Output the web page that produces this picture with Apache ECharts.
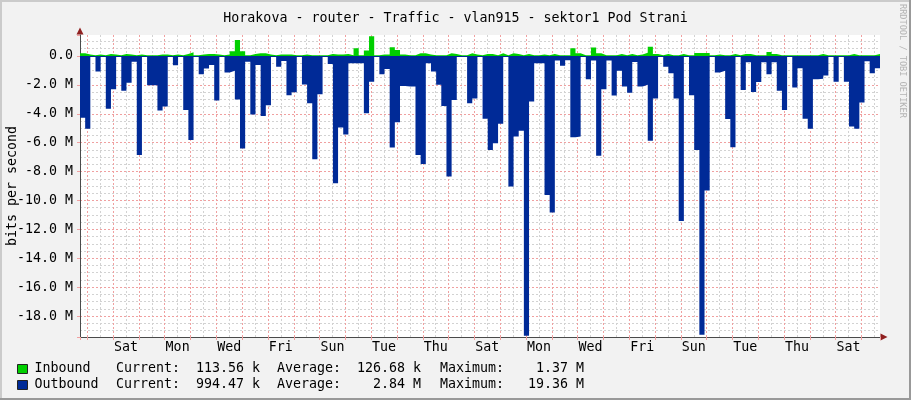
<!DOCTYPE html>
<html><head><meta charset="utf-8">
<script src="https://cdn.jsdelivr.net/npm/echarts@6/dist/echarts.min.js"></script>
<style>html,body{margin:0;padding:0;background:#F2F2F2}#c{width:911px;height:400px}</style>
</head><body><div id="c"></div>
<script>
// ---------------- data ----------------
const chartTitle = 'Horakova - router - Traffic - vlan915 - sektor1 Pod Strani';
const yAxisTitle = 'bits per second';
const seriesNames = ['Inbound', 'Outbound'];
const watermark = 'RRDTOOL / TOBI OETIKER';
// time in days since the first midnight shown (Fri 00:00)
const startDay = -0.283;
const slotDays = 0.2;              // 4.8 h consolidated samples
const dayLabels = ['Sat','Mon','Wed','Fri','Sun','Tue','Thu','Sat','Mon','Wed','Fri','Sun','Tue','Thu','Sat'];
const firstLabelDay = 1.5;         // Sat noon
const labelStepDays = 2;
// values in Mbit/s
const inboundM = [
 0.18,0.1,0.05,0.1,0.05,0.14,0.1,0.05,0.14,0.1,
 0.05,0.1,0.05,0.05,0.05,0.1,0.1,0.05,0.1,0.05,
 0.14,0.25,0.05,0.1,0.14,0.14,0.1,0.05,0.1,0.32,
 1.1,0.32,0.05,0.14,0.18,0.18,0.1,0.05,0.1,0.1,
 0.1,0.05,0.05,0.1,0.05,0.05,0.05,0.05,0.14,0.1,
 0.1,0.14,0.05,0.53,0.05,0.37,1.37,0.05,0.1,0.1,
 0.6,0.41,0.1,0.05,0.05,0.18,0.18,0.1,0.05,0.05,
 0.05,0.18,0.14,0.05,0.05,0.18,0.1,0.05,0.14,0.14,
 0.05,0.18,0.05,0.18,0.14,0.05,0.14,0.05,0.05,0.1,
 0.05,0.14,0.05,0.05,0.05,0.53,0.18,0.05,0.05,0.58,
 0.18,0.05,0.05,0.05,0.14,0.05,0.14,0.05,0.1,0.23,
 0.64,0.14,0.05,0.14,0.05,0.05,0.14,0.05,0.05,0.2,
 0.2,0.2,0.05,0.1,0.05,0.05,0.14,0.05,0.14,0.14,
 0.05,0.05,0.05,0.28,0.14,0.05,0.05,0.05,0.05,0.05,
 0.05,0.05,0.05,0.14,0.05,0.05,0.05,0.05,0.05,0.14,
 0.05,0.05,0.05,0.05,0.14
];
const outboundM = [
 -4.27,-5.03,-0.08,-1.08,-0.08,-3.65,-2.3,-0.08,-2.4,-1.85,
 -0.4,-6.85,-0.08,-2.03,-2.03,-3.78,-3.5,-0.08,-0.65,-0.08,
 -3.74,-5.81,-0.08,-1.27,-0.87,-0.62,-3.09,-0.08,-1.15,-1.02,
 -3.02,-6.41,-0.4,-4.06,-0.62,-4.15,-3.41,-0.08,-0.74,-0.35,
 -2.72,-2.51,-0.08,-1.98,-3.28,-7.15,-2.65,-0.08,-0.55,-8.81,
 -4.96,-5.44,-0.5,-0.5,-0.5,-3.97,-1.78,-0.08,-1.27,-0.9,
 -6.34,-4.59,-2.08,-2.12,-2.12,-6.85,-7.47,-0.5,-1.08,-2.0,
 -3.46,-8.35,-3.05,-0.08,-0.08,-3.28,-2.95,-0.08,-4.34,-6.5,
 -6.04,-4.7,-0.08,-9.04,-5.58,-5.17,-19.36,-3.16,-0.5,-0.5,
 -9.62,-10.84,-0.32,-0.67,-0.3,-5.63,-5.58,-0.08,-1.61,-0.32,
 -6.9,-2.3,-0.32,-2.74,-1.02,-2.12,-2.54,-0.42,-2.12,-2.0,
 -5.86,-2.95,-0.08,-0.74,-1.2,-2.95,-11.42,-0.08,-2.72,-6.5,
 -19.3,-9.32,-0.08,-1.15,-1.02,-4.36,-6.32,-0.08,-2.35,-0.44,
 -2.49,-1.8,-0.44,-1.27,-0.44,-2.4,-3.74,-0.08,-2.19,-0.85,
 -4.34,-5.03,-1.61,-1.57,-1.36,-0.08,-1.78,-0.08,-1.78,-4.89,
 -5.03,-3.23,-0.37,-1.2,-0.85
];
const statLabels = ['Current:', 'Average:', 'Maximum:'];
const inboundStats = ['113.56 k', '126.68 k', '1.37 M'];
const outboundStats = ['994.47 k', '2.84 M', '19.36 M'];
const yMin = -19.45, yMax = 1.45;

// ---------------- chart ----------------
const FONT = 'DejaVu Sans Mono';
const FS = 13.3;
const C_IN = '#00CF00', C_OUT = '#002A97';
const C_GRID = '#d2d2d2', C_MGRID = '#f0a0a0', C_AXIS = '#4a4a4a', C_ARROW = '#902020';
const xMin = startDay, xMax = startDay + outboundM.length * slotDays;

function stepData(vals) {
  const d = vals.map((v, i) => [startDay + i * slotDays, v]);
  d.push([startDay + vals.length * slotDays, vals[vals.length - 1]]);
  return d;
}
function near(a, b) { return Math.abs(a - b) < 1e-6; }
function xLabel(v) {
  const k = (v - firstLabelDay) / labelStepDays;
  const r = Math.round(k);
  if (near(k, r) && r >= 0 && r < dayLabels.length) return dayLabels[r];
  return '';
}
function yLabel(v) {
  const k = v / 2;
  if (!near(k, Math.round(k))) return '';
  if (Math.abs(v) < 1e-9) return '0.0';
  return v.toFixed(1) + ' M';
}
function fmtStat(label, s) {
  const parts = s.split(' ');
  return label + parts[0].padStart(8, ' ') + ' ' + parts[1];
}

const gridLine = (color) => ({show: true, showMinLine: false, showMaxLine: false,
  lineStyle: {color: color, width: 1, type: [2, 2]}});

const chart = echarts.init(document.getElementById('c'), null, {renderer: 'canvas'});
const statX = [116, 277, 440];
const rowY = [369, 385];
const graphics = [
  {type: 'rect', silent: true, shape: {x: 0, y: 0, width: 911, height: 2}, style: {fill: '#CBCBCB'}},
  {type: 'rect', silent: true, shape: {x: 0, y: 0, width: 2, height: 400}, style: {fill: '#CBCBCB'}},
  {type: 'rect', silent: true, shape: {x: 909, y: 0, width: 2, height: 400}, style: {fill: '#999999'}},
  {type: 'rect', silent: true, shape: {x: 0, y: 398, width: 911, height: 2}, style: {fill: '#999999'}},
  {type: 'text', silent: true, x: 907, y: 4, rotation: -Math.PI / 2,
    style: {text: watermark, font: '8.6px "DejaVu Sans Mono"', fill: '#b4b4b4', textAlign: 'left', textVerticalAlign: 'top'}}
];
[inboundStats, outboundStats].forEach((stats, r) => {
  stats.forEach((s, c) => {
    graphics.push({type: 'text', silent: true, x: statX[c], y: rowY[r],
      style: {text: fmtStat(statLabels[c], s), font: FS + 'px "DejaVu Sans Mono"', fill: '#000', textVerticalAlign: 'middle'}});
  });
});

chart.setOption({
  animation: false,
  backgroundColor: '#F2F2F2',
  title: {text: chartTitle, left: 'center', top: 7,
    textStyle: {fontFamily: FONT, fontSize: FS, fontWeight: 'normal', color: '#000'}},
  legend: {left: 17, top: 361, orient: 'vertical', icon: 'rect', itemWidth: 10, itemHeight: 9, itemGap: 0, padding: 0,
    selectedMode: false, data: seriesNames,
    itemStyle: {borderColor: '#222', borderWidth: 1},
    textStyle: {fontFamily: FONT, fontSize: FS, color: '#000', lineHeight: 16, padding: [0, 0, 0, 2]}},
  grid: {left: 80, right: 31, top: 35, bottom: 63, show: true, backgroundColor: '#ffffff', borderWidth: 0,
    containLabel: false, outerBoundsMode: 'none'},
  xAxis: [
    {type: 'value', min: xMin, max: xMax, minInterval: 0.5, maxInterval: 0.5, splitNumber: 62, position: 'bottom', z: 0,
      axisLine: {show: false}, axisTick: {show: false}, splitLine: gridLine(C_GRID),
      axisLabel: {show: true, margin: 4, color: '#000', fontFamily: FONT, fontSize: FS, hideOverlap: false, formatter: xLabel}},
    {type: 'value', min: xMin, max: xMax, minInterval: 1, maxInterval: 1, splitNumber: 31, position: 'bottom', z: 1,
      axisLine: {show: true, onZero: false, lineStyle: {color: C_AXIS, width: 1}},
      axisTick: {show: true, length: 3, lineStyle: {color: C_MGRID}},
      splitLine: gridLine(C_MGRID), axisLabel: {show: false}},
    {type: 'value', min: xMin, max: xMax, position: 'bottom', z: 0,
      axisLine: {show: true, onZero: false, symbol: ['none', 'triangle'], symbolSize: [7, 7], symbolOffset: [0, 4],
        lineStyle: {color: C_ARROW, width: 0}},
      axisTick: {show: false}, axisLabel: {show: false}, splitLine: {show: false}}
  ],
  yAxis: [
    {type: 'value', min: yMin, max: yMax, minInterval: 0.5, maxInterval: 0.5, splitNumber: 42, position: 'left', z: 0,
      axisLine: {show: false}, axisTick: {show: false}, axisLabel: {show: false}, splitLine: gridLine(C_GRID)},
    {type: 'value', min: yMin, max: yMax, minInterval: 2, maxInterval: 2, splitNumber: 10, position: 'left', z: 1,
      axisLine: {show: true, onZero: false, lineStyle: {color: C_AXIS, width: 1}},
      axisTick: {show: true, length: 3, lineStyle: {color: C_MGRID}},
      splitLine: gridLine(C_MGRID),
      axisLabel: {show: true, margin: 7, color: '#000', fontFamily: FONT, fontSize: FS, formatter: yLabel},
      name: yAxisTitle, nameLocation: 'middle', nameGap: 61, nameRotate: 90, nameMoveOverlap: false,
      nameTextStyle: {fontFamily: FONT, fontSize: FS, color: '#000'}},
    {type: 'value', min: yMin, max: yMax, position: 'left', z: 0,
      axisLine: {show: true, onZero: false, symbol: ['none', 'triangle'], symbolSize: [7, 7], symbolOffset: [0, 4],
        lineStyle: {color: C_ARROW, width: 0}},
      axisTick: {show: false}, axisLabel: {show: false}, splitLine: {show: false}}
  ],
  series: [
    {name: seriesNames[0], type: 'line', xAxisIndex: 0, yAxisIndex: 0, step: 'end', symbol: 'none', showSymbol: false,
      color: C_IN, itemStyle: {color: C_IN}, lineStyle: {width: 0}, areaStyle: {color: C_IN, opacity: 1, origin: 0},
      data: stepData(inboundM), z: 3},
    {name: seriesNames[1], type: 'line', xAxisIndex: 0, yAxisIndex: 0, step: 'end', symbol: 'none', showSymbol: false,
      color: C_OUT, itemStyle: {color: C_OUT}, lineStyle: {width: 0}, areaStyle: {color: C_OUT, opacity: 1, origin: 0},
      data: stepData(outboundM), z: 2}
  ],
  graphic: graphics
});
</script></body></html>
